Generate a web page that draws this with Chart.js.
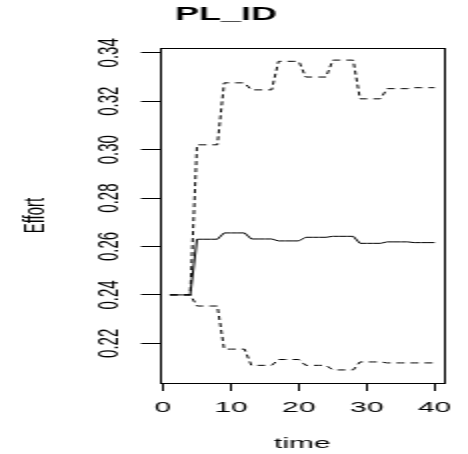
<!DOCTYPE html>
<html>
<head>
<meta charset="utf-8">
<script src="https://cdn.jsdelivr.net/npm/chart.js@4/dist/chart.umd.min.js"></script>
<style>
  html, body { margin: 0; padding: 0; background: #fff; overflow: hidden; }
  /* the original plot is stretched sideways, so draw at half width and widen it */
  #wrap { width: 234px; height: 454px; transform: scaleX(2); transform-origin: 0 0; }
</style>
</head>
<body>
<div id="wrap"><canvas id="chart" width="234" height="454"></canvas></div>
<script>
// Chart data
const time = [1, 2, 3, 4, 5, 6, 7, 8, 9, 10, 11, 12, 13, 14, 15, 16, 17, 18, 19, 20,
              21, 22, 23, 24, 25, 26, 27, 28, 29, 30, 31, 32, 33, 34, 35, 36, 37, 38, 39, 40];
const effort = [0.2400, 0.2400, 0.2400, 0.2400, 0.2630, 0.2630, 0.2630, 0.2630, 0.2656, 0.2656,
                0.2656, 0.2656, 0.2631, 0.2631, 0.2631, 0.2631, 0.2623, 0.2623, 0.2623, 0.2623,
                0.2638, 0.2638, 0.2638, 0.2638, 0.2642, 0.2642, 0.2642, 0.2642, 0.2613, 0.2613,
                0.2613, 0.2613, 0.2619, 0.2619, 0.2619, 0.2619, 0.2616, 0.2616, 0.2616, 0.2616];
const upper = [0.2400, 0.2400, 0.2400, 0.2400, 0.3020, 0.3020, 0.3020, 0.3020, 0.3276, 0.3276,
               0.3276, 0.3276, 0.3247, 0.3247, 0.3247, 0.3247, 0.3365, 0.3365, 0.3365, 0.3365,
               0.3300, 0.3300, 0.3300, 0.3300, 0.3370, 0.3370, 0.3370, 0.3370, 0.3210, 0.3210,
               0.3210, 0.3210, 0.3252, 0.3252, 0.3252, 0.3252, 0.3256, 0.3256, 0.3256, 0.3256];
const lower = [0.2400, 0.2400, 0.2400, 0.2400, 0.2354, 0.2354, 0.2354, 0.2354, 0.2176, 0.2176,
               0.2176, 0.2176, 0.2109, 0.2109, 0.2109, 0.2109, 0.2133, 0.2133, 0.2133, 0.2133,
               0.2109, 0.2109, 0.2109, 0.2109, 0.2090, 0.2090, 0.2090, 0.2090, 0.2123, 0.2123,
               0.2123, 0.2123, 0.2119, 0.2119, 0.2119, 0.2119, 0.2119, 0.2119, 0.2119, 0.2119];
const xTicks = [0, 10, 20, 30, 40];
const yTicks = [0.22, 0.24, 0.26, 0.28, 0.30, 0.32, 0.34];
const yTickLabels = ['0.22', '0.24', '0.26', '0.28', '0.30', '0.32', '0.34'];

const FONT = 'Liberation Sans, Arial, sans-serif';

function points(values) {
  return time.map((t, i) => ({x: t, y: values[i]}));
}

// Box around the plot region, R style
const frameBox = {
  id: 'frameBox',
  afterDraw(chart) {
    const {ctx, chartArea: a} = chart;
    ctx.save();
    ctx.strokeStyle = '#000';
    ctx.lineWidth = 1;
    ctx.strokeRect(Math.round(a.left) + 0.5, Math.round(a.top) + 0.5,
                   Math.round(a.right - a.left), Math.round(a.bottom - a.top));
    ctx.restore();
  }
};

// Y tick labels turned parallel to the axis
const yLabels = {
  id: 'yLabels',
  afterDraw(chart) {
    const {ctx} = chart;
    const y = chart.scales.y;
    ctx.save();
    ctx.fillStyle = '#000';
    ctx.font = '15px ' + FONT;
    ctx.textAlign = 'center';
    ctx.textBaseline = 'middle';
    yTicks.forEach((v, i) => {
      ctx.save();
      ctx.translate(54.5, y.getPixelForValue(v));
      ctx.rotate(-Math.PI / 2);
      ctx.fillText(yTickLabels[i], 0, 0);
      ctx.restore();
    });
    ctx.restore();
  }
};

const lineStyle = {
  borderColor: '#000',
  borderWidth: 1,
  pointRadius: 0,
  fill: false,
  tension: 0
};

new Chart(document.getElementById('chart'), {
  type: 'line',
  data: {
    datasets: [
      Object.assign({label: 'Effort', data: points(effort)}, lineStyle),
      Object.assign({label: 'Upper', data: points(upper), borderDash: [4, 3]}, lineStyle),
      Object.assign({label: 'Lower', data: points(lower), borderDash: [4, 3]}, lineStyle)
    ]
  },
  options: {
    responsive: false,
    animation: false,
    devicePixelRatio: 1,
    layout: {padding: {left: 0, right: 8, top: 0, bottom: 0}},
    plugins: {
      legend: {display: false},
      tooltip: {enabled: false},
      title: {
        display: true,
        text: 'PL_ID',
        color: '#000',
        font: {family: FONT, size: 18, weight: 'bold'},
        padding: {top: 4, bottom: 22.4}
      }
    },
    scales: {
      x: {
        type: 'linear',
        min: -0.45,
        max: 41.5,
        afterBuildTicks: s => { s.ticks = xTicks.map(v => ({value: v})); },
        afterFit: s => { s.height = 71; },
        grid: {display: true, drawOnChartArea: false, drawTicks: true, tickLength: 8, color: '#000'},
        border: {display: false},
        ticks: {color: '#000', font: {family: FONT, size: 15}, padding: 8, maxRotation: 0},
        title: {display: true, text: 'time', color: '#000', font: {family: FONT, size: 15}, padding: {top: 0, bottom: 1}}
      },
      y: {
        type: 'linear',
        min: 0.2036,
        max: 0.342,
        afterBuildTicks: s => { s.ticks = yTicks.map(v => ({value: v})); },
        afterFit: s => { s.width = 80; },
        grid: {display: true, drawOnChartArea: false, drawTicks: true, tickLength: 9.5, color: '#000'},
        border: {display: false},
        ticks: {display: false},
        title: {display: true, text: 'Effort', color: '#000', font: {family: FONT, size: 15}, padding: {top: 9, bottom: 7}}
      }
    }
  },
  plugins: [frameBox, yLabels]
});
</script>
</body>
</html>
